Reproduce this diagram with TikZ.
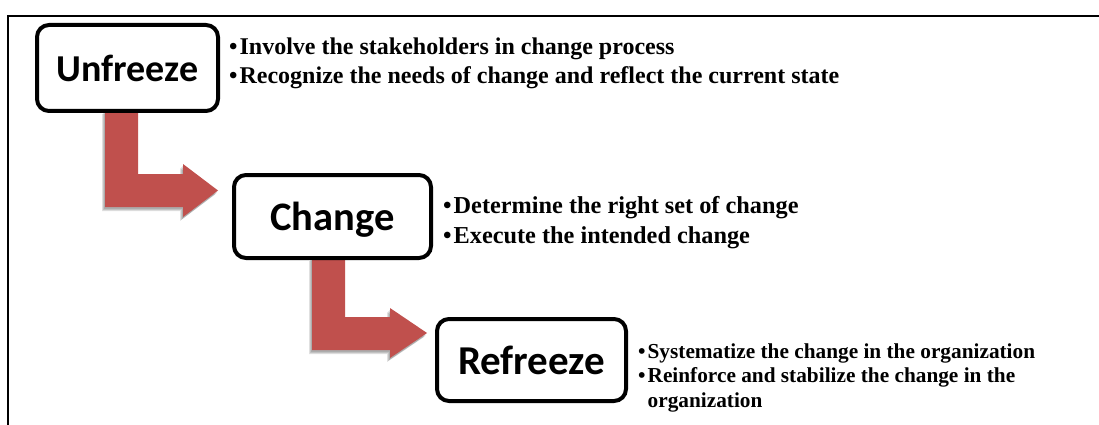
\documentclass[tikz,border=0pt]{standalone}
\usepackage{fontspec}
\setmainfont{Liberation Serif}
\newfontfamily\boxfont{Carlito}
\definecolor{arrowred}{HTML}{C0504D}
\begin{document}
\begin{tikzpicture}[x=1pt,y=-1pt,
  stagebox/.style={draw=black, line width=4pt, rounded corners=12pt, fill=white, inner sep=0pt,
    text depth=0pt},
  arrowshade/.style={fill=black, opacity=0.12},
  bentarrow/.style={fill=arrowred, draw=none},
  bullets/.style={anchor=base west, inner sep=0pt, align=left}]
\useasboundingbox (0,0) rectangle (1099,425);
\fill[white] (0,0) rectangle (1099,425);
\draw[line width=2pt] (8,425) -- (8,16) -- (1099,16);

% bent arrows (soft shadow, then arrow)
\foreach \dx/\dy in {-1/2,-2/3,-3/4}{
  \fill[arrowshade, shift={(\dx,\dy)}] (105,110) -- (138,110) -- (138,174) -- (183,174) -- (183,164) -- (218,190.5)
    -- (183,217) -- (183,207) -- (105,207) -- cycle;
  \fill[arrowshade, shift={(\dx,\dy)}] (312,257) -- (345,257) -- (345,317) -- (390,317) -- (390,308) -- (427,333)
    -- (390,358) -- (390,350) -- (312,350) -- cycle;
}
\fill[bentarrow] (105,110) -- (138,110) -- (138,174) -- (183,174) -- (183,164) -- (218,190.5)
  -- (183,217) -- (183,207) -- (105,207) -- cycle;
\fill[bentarrow] (312,257) -- (345,257) -- (345,317) -- (390,317) -- (390,308) -- (427,333)
  -- (390,358) -- (390,350) -- (312,350) -- cycle;

% stage boxes
\node[stagebox, minimum width=181pt, minimum height=86pt,
  font=\boxfont\bfseries\fontsize{38}{42}\selectfont] (unfreeze) at (127.5,68) {Unfreeze};
\node[stagebox, minimum width=197pt, minimum height=83pt,
  font=\boxfont\bfseries\fontsize{40.5}{44}\selectfont] (change) at (332.5,216.5) {Change};
\node[stagebox, minimum width=189pt, minimum height=82pt,
  font=\boxfont\bfseries\fontsize{41}{45}\selectfont] (refreeze) at (531.5,360) {Refreeze};

% bullet texts
\node[bullets] (utext) at (229,55) {\fontsize{24}{28.5}\selectfont\bfseries
  \begin{tabular}[t]{@{}l@{\hspace{2pt}}l@{}}
  •&Involve the stakeholders in change process\\
  •&Recognize the needs of change and reflect the current state
  \end{tabular}};
\node[bullets] (ctext) at (443,213) {\fontsize{24.3}{30}\selectfont\bfseries
  \begin{tabular}[t]{@{}l@{\hspace{2pt}}l@{}}
  •&Determine the right set of change\\
  •&Execute the intended change
  \end{tabular}};
\node[bullets] (rtext) at (638,358) {\fontsize{21.3}{24.5}\selectfont\bfseries
  \begin{tabular}[t]{@{}l@{\hspace{2pt}}l@{}}
  •&Systematize the change in the organization\\
  •&Reinforce and stabilize the change in the\\
  &organization
  \end{tabular}};
\end{tikzpicture}
\end{document}
